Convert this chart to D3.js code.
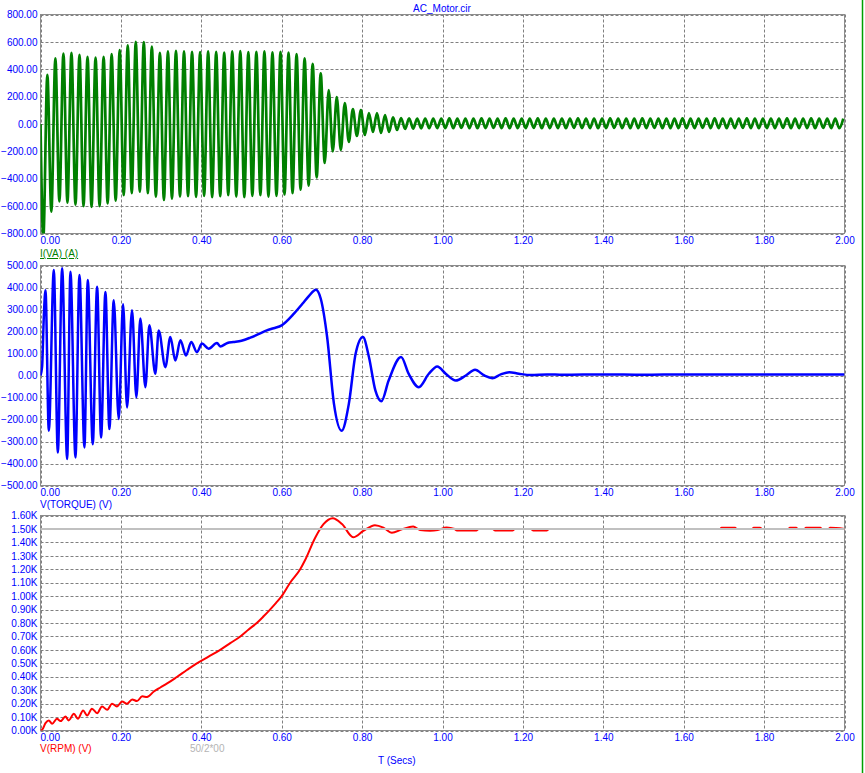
<!DOCTYPE html>
<html>
<head>
<meta charset="utf-8">
<script src="https://cdn.jsdelivr.net/npm/d3@7"></script>
<style>
  body { margin: 0; background: #fff; }
  svg { display: block; }
  text { font-family: "Liberation Sans", Arial, sans-serif; font-size: 10px; }
</style>
</head>
<body>
<svg id="chart"></svg>
<script>
// shared time axis (seconds)
const timeTicks = [0, 0.2, 0.4, 0.6, 0.8, 1.0, 1.2, 1.4, 1.6, 1.8, 2.0];
const currentTicks = [-800, -600, -400, -200, 0, 200, 400, 600, 800];
const torqueTicks = [-500, -400, -300, -200, -100, 0, 100, 200, 300, 400, 500];
const rpmTicks = [0, 100, 200, 300, 400, 500, 600, 700, 800, 900, 1000, 1100, 1200, 1300, 1400, 1500, 1600];

// I(VA): one trough and one crest per 50 Hz cycle
const cyclePeriod = 0.02;
const currentLow = [
  -830, -640, -565, -575, -590, -600, -605, -600, -580, -560,
  -520, -505, -495, -505, -530, -555, -545, -530, -528, -532,
  -525, -535, -528, -520, -530, -535, -525, -520, -530, -525,
  -515, -505, -480, -450, -390, -285, -200, -190, -131, -87,
  -80, -58, -65, -58, -44, -36, -34, -32, -31, -30,
  -30, -31, -29, -30, -31, -30, -29, -30, -31, -30,
  -30, -29, -31, -30, -30, -31, -29, -30, -30, -31,
  -30, -29, -30, -31, -30, -30, -29, -31, -30, -30,
  -31, -30, -29, -30, -30, -31, -30, -29, -30, -31,
  -30, -30, -29, -31, -30, -30, -31, -29, -30, -30
];
const currentHigh = [
  360, 480, 515, 520, 505, 490, 485, 490, 510, 540,
  575, 600, 598, 565, 520, 530, 535, 530, 527, 525,
  530, 528, 522, 530, 532, 525, 528, 530, 524, 528,
  522, 510, 480, 440, 370, 247, 196, 153, 109, 102,
  80, 80, 65, 48, 44, 42, 40, 40, 39, 40,
  41, 39, 40, 40, 41, 39, 40, 41, 40, 39,
  40, 41, 40, 39, 40, 40, 41, 39, 40, 40,
  41, 40, 39, 40, 41, 40, 39, 40, 40, 41,
  39, 40, 40, 41, 40, 39, 40, 41, 40, 39,
  40, 40, 41, 39, 40, 41, 40, 39, 40, 40
];

// V(TORQUE)
const torqueTime = [
  0, 0.004, 0.0083, 0.0124, 0.0207, 0.0331, 0.0431, 0.0538, 0.0663, 0.0745,
  0.087, 0.0969, 0.1093, 0.1176, 0.13, 0.1408, 0.1507, 0.1615, 0.1714, 0.1822,
  0.1946, 0.2054, 0.2153, 0.2277, 0.2385, 0.2484, 0.2609, 0.2708, 0.2857, 0.294,
  0.3106, 0.323, 0.3354, 0.348, 0.3619, 0.375, 0.3892, 0.4017, 0.4182, 0.439,
  0.4472, 0.465, 0.48, 0.5, 0.522, 0.545, 0.563, 0.58, 0.6, 0.631,
  0.652, 0.668, 0.685, 0.697, 0.713, 0.73, 0.749, 0.767, 0.784, 0.802,
  0.817, 0.833, 0.848, 0.866, 0.897, 0.916, 0.941, 0.966, 0.987, 1.008,
  1.033, 1.058, 1.081, 1.104, 1.124, 1.145, 1.166, 1.19, 1.22, 1.26,
  1.3, 1.4, 1.5, 1.6, 1.7, 1.8, 1.9, 2.0
];
const torqueValue = [
  0, 40, 270, 388, -251, 480, -350, 487, -380, 472,
  -373, 457, -327, 434, -312, 403, -282, 380, -243, 342,
  -198, 324, -145, 297, -99, 259, -53, 228, 8, 205,
  38, 175, 68, 160, 91, 152, 106, 145, 122, 148,
  132, 148, 152, 158, 172, 190, 205, 215, 228, 282,
  327, 362, 390, 350, 175, -129, -251, -129, 100, 175,
  84, -68, -117, -23, 84, 7, -53, 8, 41, 8,
  -23, 0, 26, 0, -12, 5, 15, 8, 2, 5,
  3, 5, 3, 5, 4, 5, 4, 5
];

// V(RPM)
const rpmTime = [
  0, 0.004, 0.0124, 0.0207, 0.029, 0.041, 0.05, 0.062, 0.07, 0.083,
  0.093, 0.106, 0.116, 0.128, 0.141, 0.153, 0.166, 0.178, 0.19, 0.203,
  0.215, 0.228, 0.24, 0.253, 0.265, 0.282, 0.298, 0.315, 0.34, 0.364,
  0.389, 0.418, 0.447, 0.472, 0.497, 0.517, 0.538, 0.555, 0.571, 0.586,
  0.6, 0.621, 0.646, 0.658, 0.683, 0.704, 0.727, 0.75, 0.778, 0.803,
  0.832, 0.853, 0.874, 0.899, 0.927, 0.944, 0.969, 0.988, 1.01, 1.023,
  1.03, 1.036, 1.084, 1.09, 1.125, 1.131, 1.174, 1.18, 1.22, 1.226,
  1.259, 1.265, 1.69, 1.694, 1.728, 1.732, 1.77, 1.774, 1.79, 1.795,
  1.86, 1.864, 1.88, 1.884, 1.9, 1.904, 1.94, 1.944, 1.96, 1.964,
  2.0
];
const rpmValue = [
  0, 5, 55, 75, 50, 87, 70, 104, 75, 124,
  87, 149, 112, 162, 129, 179, 154, 199, 179, 216,
  199, 231, 219, 254, 249, 290, 320, 350, 400, 450,
  500, 550, 600, 650, 700, 750, 800, 850, 900, 950,
  1000, 1100, 1200, 1267, 1433, 1536, 1580, 1536, 1438, 1485,
  1528, 1510, 1472, 1497, 1518, 1492, 1487, 1492, 1510, 1505,
  1500, 1488, 1488, 1500, 1500, 1488, 1488, 1500, 1500, 1488,
  1488, 1500, 1500, 1508, 1508, 1500, 1500, 1508, 1508, 1500,
  1500, 1508, 1508, 1500, 1500, 1508, 1508, 1500, 1500, 1508,
  1500
];
const rpmReference = 1500;

const width = 865;
const height = 773;
const blue = "#0000ff";

const currentData = [{ t: 0, v: 0 }];
currentLow.forEach((lo, k) => {
  currentData.push({ t: k * cyclePeriod + 0.007, v: lo });
  currentData.push({ t: k * cyclePeriod + 0.017, v: currentHigh[k] });
});
const torqueData = torqueTime.map((t, i) => ({ t, v: torqueValue[i] }));
const rpmData = rpmTime.map((t, i) => ({ t, v: rpmValue[i] }));

const svg = d3.select("#chart").attr("width", width).attr("height", height);

const xScale = d3.scaleLinear().domain([0, 2]).range([40.5, 844.5]);
const fmt2 = d3.format(".2f");

const panels = [
  { id: "current", top: 14.5, bottom: 233.5, domain: [-800, 800], ticks: currentTicks,
    fmt: fmt2, data: currentData, color: "#008000", width: 2.7 },
  { id: "torque", top: 265.5, bottom: 485.5, domain: [-500, 500], ticks: torqueTicks,
    fmt: fmt2, data: torqueData, color: "#0000ff", width: 2.5 },
  { id: "rpm", top: 515.5, bottom: 730.5, domain: [0, 1600], ticks: rpmTicks,
    fmt: (d) => fmt2(d / 1000) + "K", data: rpmData, color: "#ff0000", width: 2 }
];

panels.forEach((p) => {
  const yScale = d3.scaleLinear().domain(p.domain).range([p.bottom, p.top]);
  const g = svg.append("g").attr("id", p.id);

  g.append("clipPath")
    .attr("id", "clip-" + p.id)
    .append("rect")
    .attr("x", 40.5)
    .attr("y", p.top)
    .attr("width", 804)
    .attr("height", p.bottom - p.top);

  // dashed grid
  g.append("g")
    .selectAll("line")
    .data(p.ticks)
    .join("line")
    .attr("x1", 40.5)
    .attr("x2", 844.5)
    .attr("y1", (d) => Math.round(yScale(d)) + 0.5)
    .attr("y2", (d) => Math.round(yScale(d)) + 0.5)
    .attr("stroke", "#808080")
    .attr("stroke-dasharray", "3,2");
  g.append("g")
    .selectAll("line")
    .data(timeTicks)
    .join("line")
    .attr("x1", (d) => Math.round(xScale(d)) + 0.5)
    .attr("x2", (d) => Math.round(xScale(d)) + 0.5)
    .attr("y1", p.top)
    .attr("y2", p.bottom)
    .attr("stroke", "#808080")
    .attr("stroke-dasharray", "3,2");

  g.append("rect")
    .attr("x", 40.5)
    .attr("y", p.top)
    .attr("width", 804)
    .attr("height", p.bottom - p.top)
    .attr("fill", "none")
    .attr("stroke", "#8c8c8c");

  // Y-axis labels
  const yAxis = d3.axisLeft(yScale).tickValues(p.ticks).tickSize(0).tickPadding(3).tickFormat(p.fmt);
  const ya = g.append("g").attr("transform", "translate(40.5,0)").call(yAxis);
  ya.select(".domain").remove();
  ya.selectAll("text").attr("fill", blue).style("font-size", "10px").style("font-family", null);

  // X-axis labels
  const xAxis = d3.axisBottom(xScale).tickValues(timeTicks).tickSize(0).tickPadding(3).tickFormat(fmt2);
  const xa = g.append("g").attr("transform", `translate(0,${p.bottom})`).call(xAxis);
  xa.select(".domain").remove();
  xa.selectAll("text").attr("fill", blue).style("font-size", "10px").style("font-family", null);
  xa.selectAll("text").filter((d) => d === 0).attr("text-anchor", "start").attr("x", -0.5);

  const line = d3
    .line()
    .x((d) => xScale(d.t))
    .y((d) => yScale(d.v))
    .curve(d3.curveMonotoneX);

  g.append("path")
    .datum(p.data)
    .attr("clip-path", `url(#clip-${p.id})`)
    .attr("d", line)
    .attr("fill", "none")
    .attr("stroke", p.color)
    .attr("stroke-width", p.width)
    .attr("stroke-linejoin", "round");

  if (p.id === "rpm") {
    g.append("line")
      .attr("x1", 40.5)
      .attr("x2", 844.5)
      .attr("y1", yScale(rpmReference))
      .attr("y2", yScale(rpmReference))
      .attr("stroke", "#c0c0c0")
      .attr("stroke-width", 2);
  }
});

// titles and trace names
svg.append("text").attr("x", 442).attr("y", 11.5).attr("text-anchor", "middle")
  .attr("fill", blue).text("AC_Motor.cir");
svg.append("text").attr("x", 40).attr("y", 257).attr("fill", "#008000")
  .attr("text-decoration", "underline").text("I(VA) (A)");
svg.append("text").attr("x", 40).attr("y", 507.5).attr("fill", blue).text("V(TORQUE) (V)");
svg.append("text").attr("x", 40).attr("y", 751.5).attr("fill", "#ff0000").text("V(RPM) (V)");
svg.append("text").attr("x", 190).attr("y", 751.5).attr("fill", "#b4b4b4").text("50/2*00");
svg.append("text").attr("x", 378).attr("y", 763.5).attr("fill", blue).text("T (Secs)");

// window edge
svg.append("line")
  .attr("x1", 862.5).attr("x2", 862.5)
  .attr("y1", 0).attr("y2", height)
  .attr("stroke", "#00a000")
  .attr("stroke-width", 1.5);
</script>
</body>
</html>
